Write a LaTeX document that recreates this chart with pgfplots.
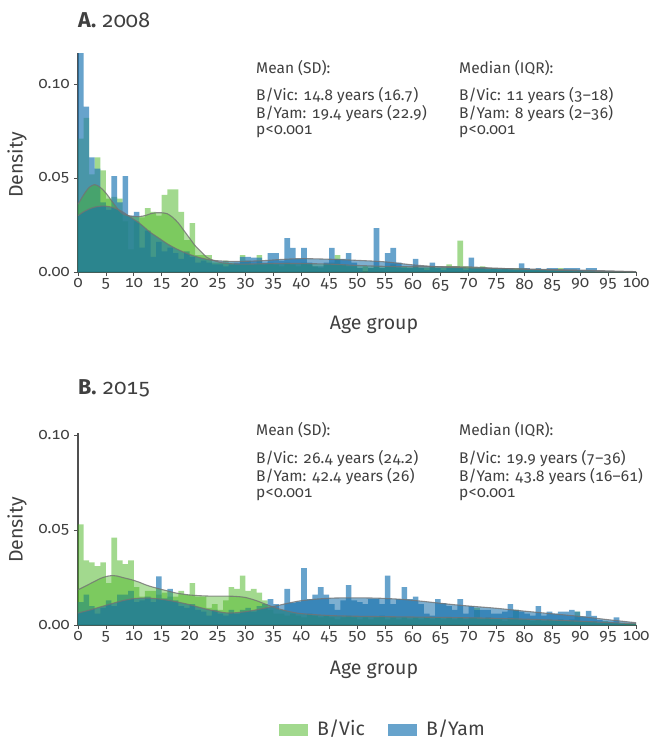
\documentclass[border=0pt]{standalone}
\usepackage{pgfplots}
\pgfplotsset{compat=1.18}
\usepackage{pgfplotstable}
\usepackage{fontspec}
\setmainfont{Fira Sans}[Numbers={OldStyle,Monospaced}]
\definecolor{txt}{HTML}{404040}
\definecolor{gbar}{RGB}{70,180,30}
\definecolor{bbar}{RGB}{31,119,180}
\definecolor{gkde}{RGB}{70,180,30}
\definecolor{bkde}{RGB}{20,110,170}
\definecolor{axc}{HTML}{505050}

% Panel A (2008): bin start, density (1-year bins)
\pgfplotstableread{
x gv by
0 0.071 0.118
1 0.082 0.088
2 0.052 0.061
3 0.061 0.055
4 0.054 0.037
5 0.039 0.033
6 0.040 0.051
7 0.039 0.037
8 0.027 0.051
9 0.012 0.030
10 0.027 0.032
11 0.029 0.013
12 0.034 0.022
13 0.032 0.008
14 0.030 0.016
15 0.041 0.011
16 0.044 0.013
17 0.044 0.010
18 0.032 0.007
19 0.017 0.011
20 0.026 0.008
21 0.009 0.005
22 0.009 0.006
23 0.009 0.005
24 0.005 0.004
25 0.005 0.004
26 0.006 0.003
27 0.005 0.004
28 0.004 0.005
29 0.009 0.008
30 0.006 0.008
31 0.004 0.0076
32 0.009 0.0076
33 0.004 0.005
34 0.005 0.010
35 0.004 0.010
36 0.003 0.006
37 0.005 0.018
38 0.004 0.0128
39 0.003 0.007
40 0.005 0.0128
41 0.004 0.005
42 0.003 0.003
43 0.002 0.003
44 0.004 0.005
45 0.005 0.0128
46 0.009 0.007
47 0.004 0.007
48 0.003 0.010
49 0.003 0.005
50 0.002 0.002
51 0.003 0.000
52 0.002 0.002
53 0.003 0.0234
54 0.002 0.002
55 0.003 0.010
56 0.004 0.0128
57 0.002 0.005
58 0.003 0.002
59 0.002 0.002
60 0.003 0.007
61 0.002 0.002
62 0.002 0.001
63 0.003 0.005
64 0.002 0.002
65 0.002 0.001
66 0.004 0.002
67 0.003 0.002
68 0.0167 0.002
69 0.003 0.001
70 0.002 0.0076
71 0.002 0.0025
72 0.003 0.0025
73 0.001 0.002
74 0.002 0.002
75 0.001 0.002
76 0.002 0.002
77 0.001 0.002
78 0.002 0.001
79 0.002 0.0046
80 0.001 0.002
81 0.001 0.001
82 0.001 0.002
83 0.001 0.001
84 0.001 0.002
85 0.001 0.002
86 0.002 0.001
87 0.001 0.002
88 0.001 0.002
89 0.001 0.002
90 0.000 0.001
91 0.001 0.002
92 0.000 0.002
93 0.000 0.000
94 0.000 0.000
95 0.000 0.000
96 0.000 0.000
97 0.000 0.000
98 0.000 0.000
99 0.000 0.000
100 0.000 0.000
}\dataA

% Panel B (2015)
\pgfplotstableread{
x gv by
0 0.053 0.012
1 0.034 0.016
2 0.033 0.010
3 0.031 0.006
4 0.033 0.009
5 0.022 0.013
6 0.046 0.010
7 0.034 0.016
8 0.032 0.016
9 0.034 0.018
10 0.020 0.012
11 0.015 0.013
12 0.018 0.015
13 0.018 0.012
14 0.016 0.0256
15 0.017 0.014
16 0.015 0.019
17 0.015 0.013
18 0.018 0.010
19 0.016 0.009
20 0.022 0.011
21 0.015 0.008
22 0.015 0.007
23 0.009 0.005
24 0.011 0.008
25 0.008 0.006
26 0.013 0.005
27 0.020 0.008
28 0.019 0.006
29 0.026 0.008
30 0.018 0.009
31 0.019 0.007
32 0.017 0.010
33 0.013 0.011
34 0.008 0.0136
35 0.006 0.011
36 0.006 0.008
37 0.005 0.019
38 0.006 0.0115
39 0.005 0.012
40 0.004 0.030
41 0.006 0.0136
42 0.005 0.016
43 0.004 0.020
44 0.005 0.016
45 0.004 0.011
46 0.003 0.008
47 0.004 0.013
48 0.005 0.021
49 0.004 0.013
50 0.003 0.012
51 0.004 0.011
52 0.003 0.0136
53 0.004 0.0136
54 0.005 0.011
55 0.003 0.026
56 0.004 0.011
57 0.003 0.0136
58 0.004 0.020
59 0.003 0.0136
60 0.004 0.015
61 0.003 0.011
62 0.004 0.006
63 0.003 0.005
64 0.004 0.0136
65 0.003 0.0115
66 0.004 0.010
67 0.003 0.008
68 0.004 0.0136
69 0.003 0.006
70 0.004 0.010
71 0.009 0.008
72 0.003 0.008
73 0.004 0.008
74 0.003 0.006
75 0.003 0.006
76 0.002 0.007
77 0.004 0.011
78 0.008 0.008
79 0.003 0.007
80 0.003 0.006
81 0.002 0.005
82 0.003 0.010
83 0.002 0.005
84 0.003 0.007
85 0.002 0.006
86 0.003 0.007
87 0.002 0.007
88 0.003 0.008
89 0.007 0.007
90 0.002 0.0045
91 0.002 0.0075
92 0.002 0.0048
93 0.001 0.0026
94 0.002 0.0018
95 0.001 0.0018
96 0.001 0.004
97 0.001 0.0005
98 0.0005 0.000
99 0.0005 0.000
100 0.0005 0.000
}\dataB

\pgfplotsset{
  myaxis/.style={
    scale only axis, width=558pt, xmin=0, xmax=100, ymin=0,
    axis x line*=bottom, axis y line*=left,
    xtick={0,5,...,100}, ytick={0,0.05,0.1},
    scaled y ticks=false,
    yticklabel style={xshift=-1pt, /pgf/number format/.cd,fixed,fixed zerofill,precision=2},
    /pgf/number format/assume math mode=true,
    tick align=outside, major tick length=4pt,
    axis line style={draw=axc, line width=1.2pt},
    tick style={draw=axc, line width=0.8pt},
    ticklabel style={font=\fontsize{16}{16}\selectfont, text=txt},
    xticklabel style={yshift=1pt},
  },
  gbarstyle/.style={const plot mark left, draw=none, fill=gbar, fill opacity=0.5},
  bbarstyle/.style={const plot mark left, draw=none, fill=bbar, fill opacity=0.68},
  gkdefill/.style={smooth, draw=none, fill=gkde, fill opacity=0.42},
  bkdefill/.style={smooth, draw=none, fill=bkde, fill opacity=0.55},
  kdeline/.style={smooth, draw=black!55, line width=1.1pt, opacity=0.8},
}

\begin{document}
\begin{tikzpicture}[x=1pt,y=1pt]
\path[use as bounding box] (0,0) rectangle (654,-740);

% ---------- Panel A ----------
\begin{axis}[myaxis, at={(78pt,-272pt)}, anchor=south west, height=219pt, ymax=0.1165]
\addplot[gbarstyle] table[x=x,y=gv]{\dataA} \closedcycle;
\addplot[bbarstyle] table[x=x,y=by]{\dataA} \closedcycle;
\addplot[gkdefill] coordinates {(0,0.036)(1,0.041)(2,0.045)(3,0.0465)(4,0.045)(5,0.042)(6,0.038)(7,0.034)(8,0.031)(9,0.030)(10,0.0295)(11,0.0295)(12,0.030)(13,0.031)(14,0.0315)(15,0.0315)(16,0.031)(17,0.029)(18,0.026)(19,0.022)(20,0.018)(21,0.014)(22,0.011)(23,0.008)(24,0.0065)(25,0.0055)(26,0.0048)(27,0.0045)(28,0.0043)(30,0.0042)(35,0.0045)(40,0.0045)(45,0.0042)(50,0.0035)(55,0.003)(60,0.0028)(65,0.0028)(70,0.0027)(75,0.002)(80,0.0015)(85,0.001)(90,0.0006)(95,0.0003)(100,0.0001)} \closedcycle;
\addplot[bkdefill] coordinates {(0,0.030)(1,0.032)(2,0.0335)(3,0.0345)(4,0.035)(5,0.035)(6,0.0345)(7,0.0335)(8,0.032)(9,0.030)(10,0.028)(11,0.026)(12,0.0235)(13,0.021)(14,0.019)(15,0.017)(16,0.015)(17,0.0133)(18,0.0118)(19,0.0105)(20,0.0093)(22,0.0075)(24,0.0063)(26,0.0058)(28,0.0056)(30,0.0057)(33,0.006)(36,0.0066)(40,0.0071)(45,0.0068)(50,0.0062)(55,0.0054)(60,0.0038)(65,0.0027)(70,0.0022)(75,0.0019)(80,0.0016)(85,0.0013)(90,0.001)(95,0.0006)(100,0.0002)} \closedcycle;
\addplot[kdeline] coordinates {(0,0.030)(1,0.032)(2,0.0335)(3,0.0345)(4,0.035)(5,0.035)(6,0.0345)(7,0.0335)(8,0.032)(9,0.030)(10,0.028)(11,0.026)(12,0.0235)(13,0.021)(14,0.019)(15,0.017)(16,0.015)(17,0.0133)(18,0.0118)(19,0.0105)(20,0.0093)(22,0.0075)(24,0.0063)(26,0.0058)(28,0.0056)(30,0.0057)(33,0.006)(36,0.0066)(40,0.0071)(45,0.0068)(50,0.0062)(55,0.0054)(60,0.0038)(65,0.0027)(70,0.0022)(75,0.0019)(80,0.0016)(85,0.0013)(90,0.001)(95,0.0006)(100,0.0002)};
\addplot[kdeline] coordinates {(0,0.036)(1,0.041)(2,0.045)(3,0.0465)(4,0.045)(5,0.042)(6,0.038)(7,0.034)(8,0.031)(9,0.030)(10,0.0295)(11,0.0295)(12,0.030)(13,0.031)(14,0.0315)(15,0.0315)(16,0.031)(17,0.029)(18,0.026)(19,0.022)(20,0.018)(21,0.014)(22,0.011)(23,0.008)(24,0.0065)(25,0.0055)(26,0.0048)(27,0.0045)(28,0.0043)(30,0.0042)(35,0.0045)(40,0.0045)(45,0.0042)(50,0.0035)(55,0.003)(60,0.0028)(65,0.0028)(70,0.0027)(75,0.002)(80,0.0015)(85,0.001)(90,0.0006)(95,0.0003)(100,0.0001)};
\end{axis}

% ---------- Panel B ----------
\begin{axis}[myaxis, at={(78pt,-625pt)}, anchor=south west, height=192pt, ymax=0.1011]
\addplot[gbarstyle] table[x=x,y=gv]{\dataB} \closedcycle;
\addplot[bbarstyle] table[x=x,y=by]{\dataB} \closedcycle;
\addplot[gkdefill] coordinates {(0,0.0185)(1,0.020)(2,0.0215)(3,0.023)(4,0.0245)(5,0.0255)(6,0.026)(7,0.0258)(8,0.025)(9,0.0243)(10,0.0235)(11,0.0225)(12,0.0213)(13,0.0203)(14,0.0195)(15,0.0187)(16,0.018)(17,0.0172)(18,0.0166)(19,0.0162)(20,0.0158)(22,0.0154)(24,0.0152)(26,0.0152)(28,0.0151)(30,0.0145)(32,0.0128)(34,0.0105)(36,0.0085)(38,0.0070)(40,0.0060)(45,0.0050)(50,0.0046)(55,0.0044)(60,0.0042)(65,0.0040)(70,0.0038)(75,0.0035)(80,0.0031)(85,0.0026)(90,0.002)(95,0.0013)(100,0.0007)} \closedcycle;
\addplot[bkdefill] coordinates {(0,0.0063)(2,0.0078)(4,0.0095)(6,0.0112)(8,0.0128)(10,0.0139)(12,0.0142)(14,0.0139)(16,0.0131)(18,0.0120)(20,0.0107)(22,0.0091)(24,0.0077)(26,0.0066)(27,0.0063)(28,0.0064)(30,0.0070)(32,0.0080)(34,0.0092)(36,0.0104)(38,0.0117)(40,0.0128)(43,0.0137)(46,0.0142)(50,0.0143)(54,0.0141)(58,0.0135)(62,0.0124)(66,0.0111)(70,0.0100)(75,0.0088)(80,0.0073)(85,0.0059)(90,0.0045)(95,0.0028)(100,0.0012)} \closedcycle;
\addplot[kdeline] coordinates {(0,0.0063)(2,0.0078)(4,0.0095)(6,0.0112)(8,0.0128)(10,0.0139)(12,0.0142)(14,0.0139)(16,0.0131)(18,0.0120)(20,0.0107)(22,0.0091)(24,0.0077)(26,0.0066)(27,0.0063)(28,0.0064)(30,0.0070)(32,0.0080)(34,0.0092)(36,0.0104)(38,0.0117)(40,0.0128)(43,0.0137)(46,0.0142)(50,0.0143)(54,0.0141)(58,0.0135)(62,0.0124)(66,0.0111)(70,0.0100)(75,0.0088)(80,0.0073)(85,0.0059)(90,0.0045)(95,0.0028)(100,0.0012)};
\addplot[kdeline] coordinates {(0,0.0185)(1,0.020)(2,0.0215)(3,0.023)(4,0.0245)(5,0.0255)(6,0.026)(7,0.0258)(8,0.025)(9,0.0243)(10,0.0235)(11,0.0225)(12,0.0213)(13,0.0203)(14,0.0195)(15,0.0187)(16,0.018)(17,0.0172)(18,0.0166)(19,0.0162)(20,0.0158)(22,0.0154)(24,0.0152)(26,0.0152)(28,0.0151)(30,0.0145)(32,0.0128)(34,0.0105)(36,0.0085)(38,0.0070)(40,0.0060)(45,0.0050)(50,0.0046)(55,0.0044)(60,0.0042)(65,0.0040)(70,0.0038)(75,0.0035)(80,0.0031)(85,0.0026)(90,0.002)(95,0.0013)(100,0.0007)};
\end{axis}

% ---------- Texts ----------
\begin{scope}[every node/.style={text=txt, inner sep=0pt, font=\fontsize{15.5}{16}\selectfont}]
\node[anchor=west, font=\fontsize{21.5}{22}\selectfont] at (78,-20) {\textbf{A.} 2008};
\node[anchor=west, font=\fontsize{21.5}{22}\selectfont] at (78,-388) {\textbf{B.} 2015};
\node[rotate=90, font=\fontsize{19.5}{20}\selectfont] at (17,-165) {Density};
\node[rotate=90, font=\fontsize{19.5}{20}\selectfont] at (17,-530) {Density};
\node[font=\fontsize{19.5}{20}\selectfont] at (374,-325) {Age group};
\node[font=\fontsize{19.5}{20}\selectfont] at (374,-670) {Age group};
% Panel A stats
\node[anchor=west] at (256,-68) {Mean (SD):};
\node[anchor=west] at (256,-96) {B/Vic: 14.8 years (16.7)};
\node[anchor=west] at (256,-114) {B/Yam: 19.4 years (22.9)};
\node[anchor=west] at (256,-132) {p<0.001};
\node[anchor=west] at (459,-68) {Median (IQR):};
\node[anchor=west] at (459,-96) {B/Vic: 11 years (3–18)};
\node[anchor=west] at (459,-114) {B/Yam: 8 years (2–36)};
\node[anchor=west] at (459,-132) {p<0.001};
% Panel B stats
\node[anchor=west] at (256,-430) {Mean (SD):};
\node[anchor=west] at (256,-459) {B/Vic: 26.4 years (24.2)};
\node[anchor=west] at (256,-477) {B/Yam: 42.4 years (26)};
\node[anchor=west] at (256,-495) {p<0.001};
\node[anchor=west] at (459,-430) {Median (IQR):};
\node[anchor=west] at (459,-459) {B/Vic: 19.9 years (7–36)};
\node[anchor=west] at (459,-477) {B/Yam: 43.8 years (16–61)};
\node[anchor=west] at (459,-495) {p<0.001};
% Legend
\fill[gbar, fill opacity=0.5] (279,-724) rectangle (308,-735.5);
\node[anchor=base west, font=\fontsize{19.5}{20}\selectfont] at (317,-735) {B/Vic};
\fill[bbar, fill opacity=0.68] (388,-724) rectangle (417,-735.5);
\node[anchor=base west, font=\fontsize{19.5}{20}\selectfont] at (426,-735) {B/Yam};
\end{scope}
\end{tikzpicture}
\end{document}
